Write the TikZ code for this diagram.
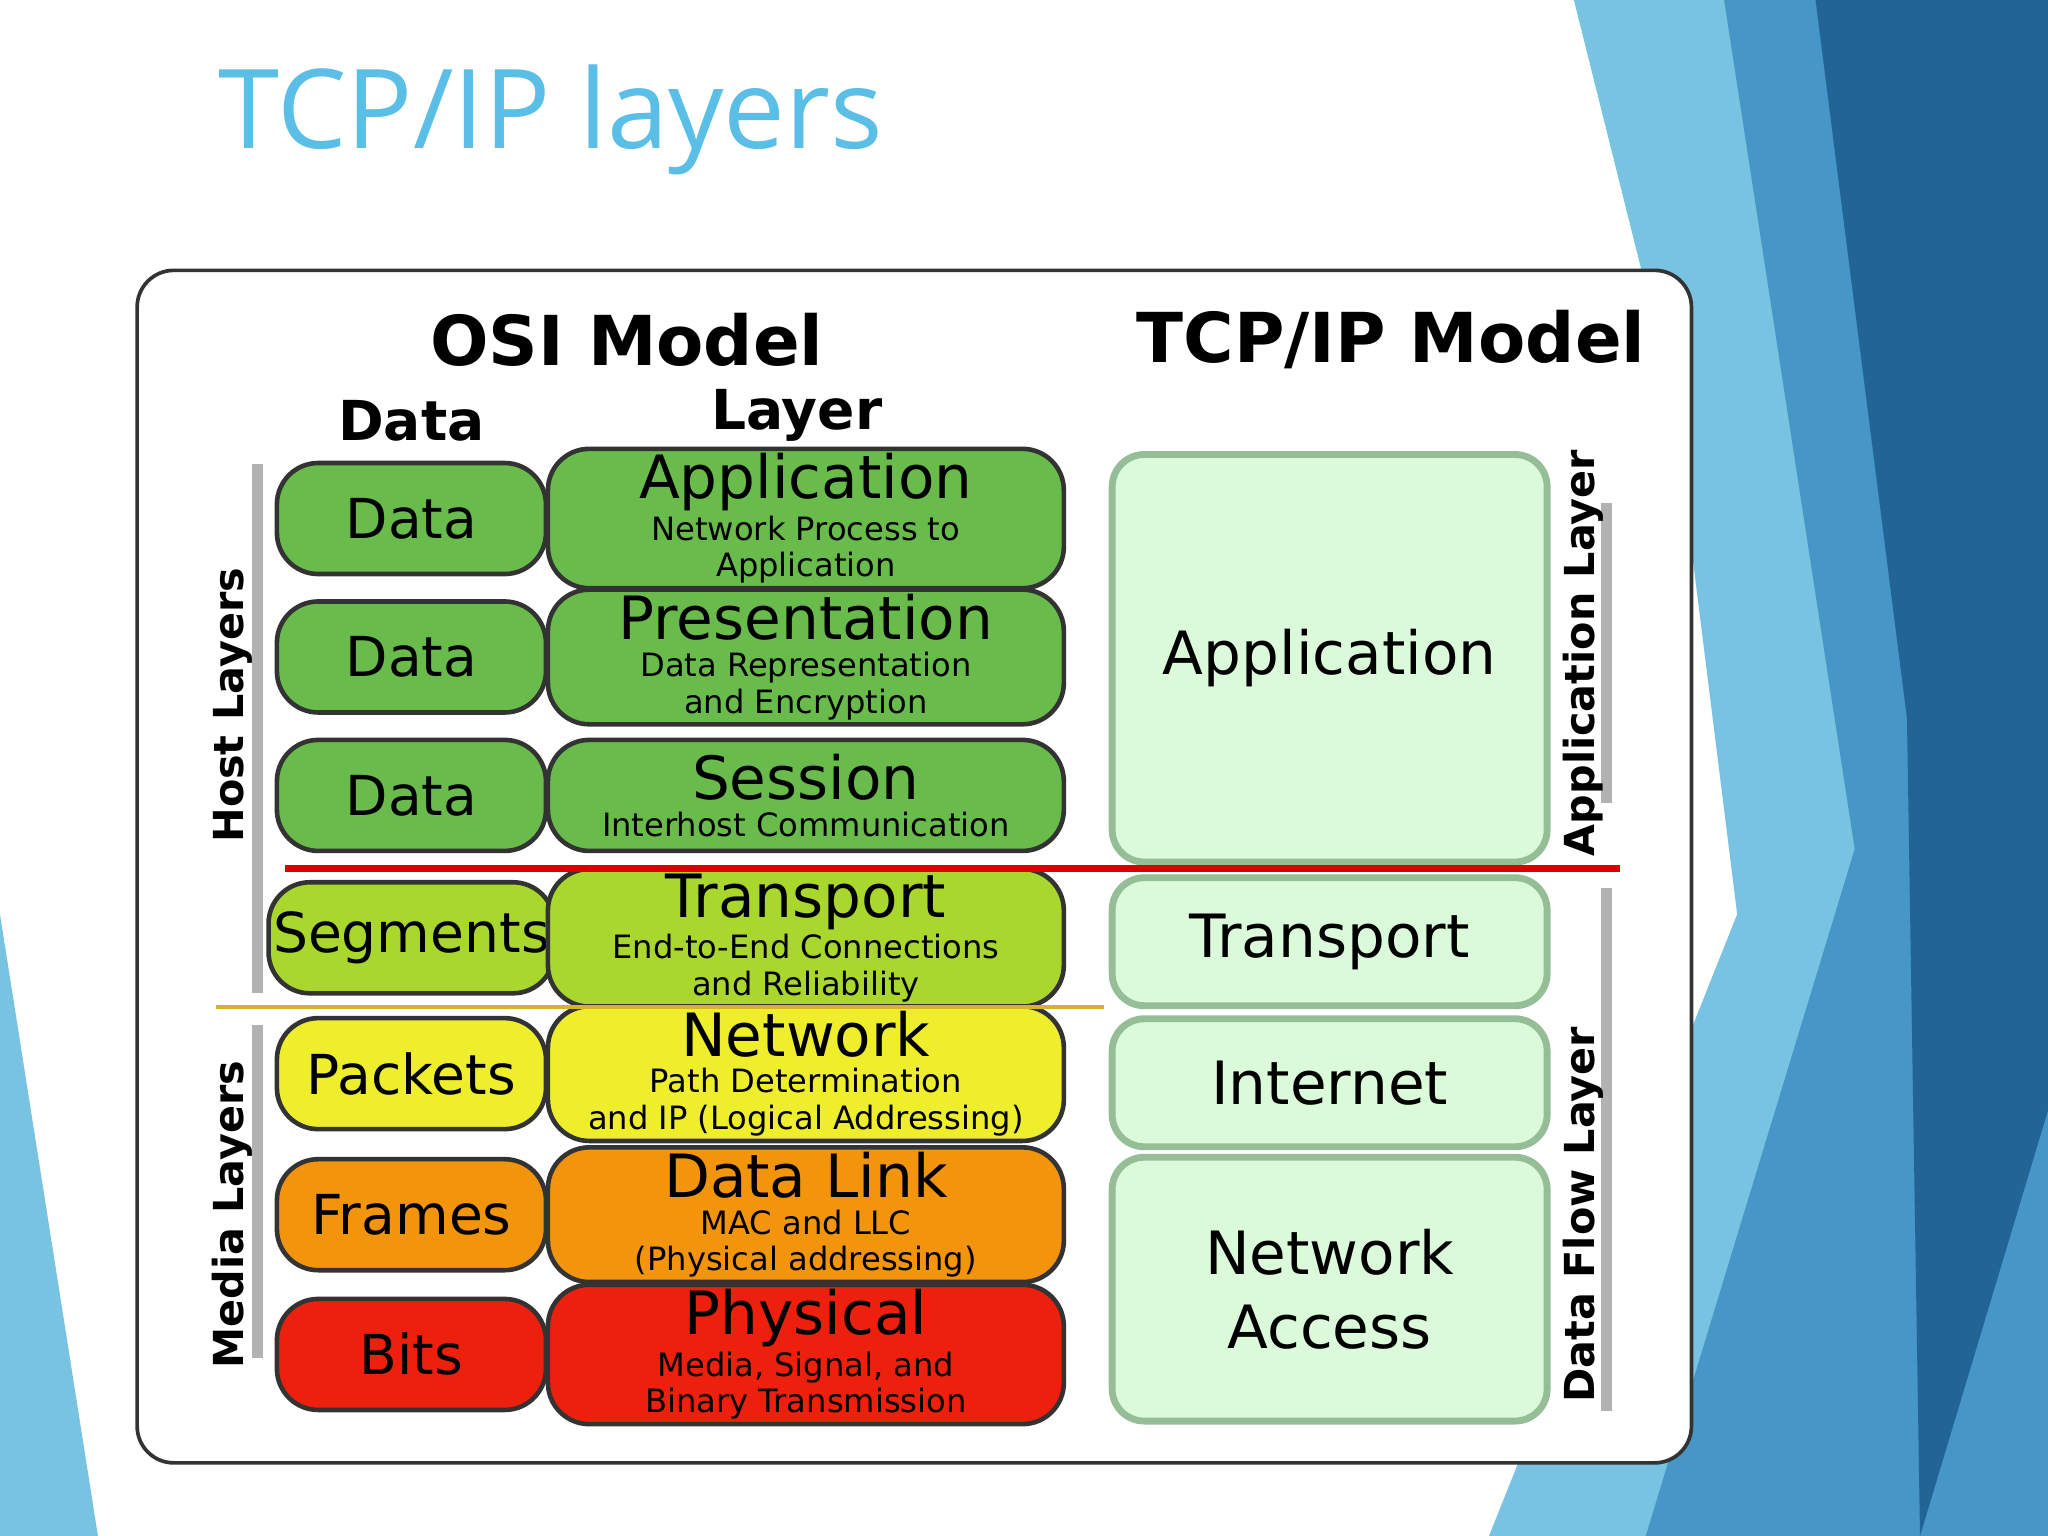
\documentclass[tikz,border=0pt]{standalone}
\usepackage{fontspec}
\setmainfont{DejaVu Sans}
\newfontfamily\titlefont{Open Sans}
\usetikzlibrary{positioning}
\definecolor{titleblue}{RGB}{90,190,230}
\definecolor{osigreen}{RGB}{105,188,75}
\definecolor{osilime}{RGB}{170,215,45}
\definecolor{osiyellow}{RGB}{238,238,45}
\definecolor{osiorange}{RGB}{242,148,12}
\definecolor{osired}{RGB}{236,32,12}
\definecolor{tcpfill}{RGB}{218,250,218}
\definecolor{tcpdraw}{RGB}{150,190,150}
\definecolor{bgA}{RGB}{120,195,225}
\definecolor{bgB}{RGB}{70,150,200}
\definecolor{bgC}{RGB}{35,100,150}
\tikzset{
  box/.style={draw=black!80, line width=1pt, rounded corners=9pt, inner sep=1pt, align=center},
  datbox/.style={box, minimum width=2.06cm, minimum height=0.85cm, font=\fontsize{12}{13}\selectfont},
  laybox/.style={box, minimum width=3.95cm, minimum height=0.85cm, font=\fontsize{7}{8}\selectfont},
  tcpbox/.style={draw=tcpdraw, line width=1.5pt, fill=tcpfill, rounded corners=7pt, minimum width=3.33cm, align=center, font=\fontsize{13}{16}\selectfont},
  head/.style={font=\bfseries\fontsize{15}{17}\selectfont},
  side/.style={font=\bfseries\fontsize{9}{10}\selectfont, rotate=90},
  bar/.style={draw=black!30, line width=2.5pt}
}
\newcommand\osirow[6]{%
  \node[datbox, fill=#6] (d#1) at (3.15,-#2) {#3};
  \node[laybox, fill=#6] (l#1) at (6.17,-#2) {\fontsize{13}{13}\selectfont #4\\\fontsize{7}{8}\selectfont #5};
}
\begin{document}
\begin{tikzpicture}
   \useasboundingbox (0,0) rectangle (15.68,-11.76);
   % background
   \fill[bgA] (12.05,0) -- (15.68,0) -- (15.68,-11.76) -- (11.4,-11.76) -- (13.3,-7.0) -- (12.8,-3.0) -- cycle;
   \fill[bgB] (13.2,0) -- (15.68,0) -- (15.68,-11.76) -- (12.6,-11.76) -- (14.2,-6.5) -- cycle;
   \fill[bgC] (13.9,0) -- (15.68,0) -- (15.68,-8.5) -- (14.7,-11.76) -- (14.6,-5.5) -- cycle;
   \fill[bgA] (0,-7.0) -- (0.75,-11.76) -- (0,-11.76) -- cycle;
   \node[text=titleblue, anchor=west, font=\titlefont\fontsize{24}{28}\selectfont] (title) at (1.55,-0.92) {TCP/IP layers};
   % frame
   \draw[black!80, line width=0.8pt, fill=white, rounded corners=8pt] (1.05,-2.07) rectangle (12.95,-11.2);
   \node[head] (osi) at (4.8,-2.6) {OSI Model};
   \node[head] (tcp) at (10.65,-2.6) {TCP/IP Model};
   \node[font=\bfseries\fontsize{12}{13}\selectfont] (hdata) at (3.15,-3.22) {Data};
   \node[font=\bfseries\fontsize{12}{13}\selectfont] (hlayer) at (6.1,-3.18) {Layer};
   % OSI rows
   \osirow{1}{3.97}{Data}{Application}{Network Process to\\Application}{osigreen}
   \osirow{2}{5.03}{Data}{Presentation}{Data Representation\\and Encryption}{osigreen}
   \osirow{3}{6.09}{Data}{Session}{Interhost Communication}{osigreen}
   \osirow{4}{7.18}{Segments}{Transport}{End-to-End Connections\\and Reliability}{osilime}
   \osirow{5}{8.22}{Packets}{Network}{Path Determination\\and IP (Logical Addressing)}{osiyellow}
   \osirow{6}{9.30}{Frames}{Data Link}{MAC and LLC\\(Physical addressing)}{osiorange}
   \osirow{7}{10.37}{Bits}{Physical}{Media, Signal, and\\Binary Transmission}{osired}
   % TCP/IP column
   \node[tcpbox, minimum height=3.12cm] (tapp) at (10.18,-5.04) {Application};
   \node[tcpbox, minimum height=0.98cm] (ttra) at (10.18,-7.21) {Transport};
   \node[tcpbox, minimum height=0.98cm] (tint) at (10.18,-8.29) {Internet};
   \node[tcpbox, minimum height=2.02cm] (tnet) at (10.18,-9.87) {Network\\Access};
   % dividers
   \draw[red!85!black, line width=1.5pt] (2.18,-6.65) -- (12.4,-6.65);
   \draw[brown!60!yellow, line width=1pt] (1.65,-7.71) -- (8.45,-7.71);
   % side labels
   \draw[bar] (1.97,-3.55) -- (1.97,-7.6);
   \node[side] (host) at (1.78,-5.4) {Host Layers};
   \draw[bar] (1.97,-7.85) -- (1.97,-10.4);
   \node[side] (media) at (1.78,-9.3) {Media Layers};
   \draw[bar] (12.3,-3.85) -- (12.3,-6.15);
   \node[side] (applayer) at (12.12,-5.0) {Application Layer};
   \draw[bar] (12.3,-6.8) -- (12.3,-10.8);
   \node[side] (flow) at (12.12,-9.3) {Data Flow Layer};
\end{tikzpicture}
\end{document}
